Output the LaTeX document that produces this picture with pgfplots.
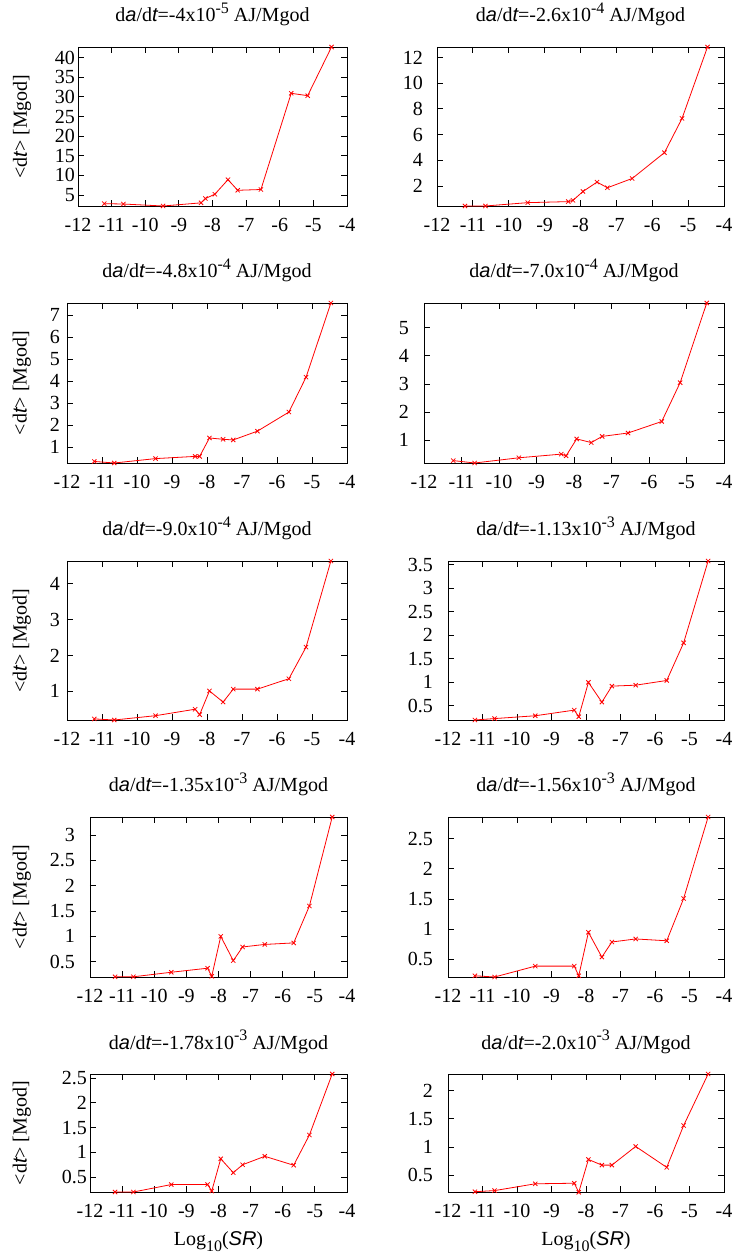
\documentclass[border=0pt]{standalone}
\usepackage{fontspec}
\setmainfont{Liberation Serif}
\newfontfamily\hv{Liberation Sans}
\newcommand{\si}[1]{{\hv\itshape #1}}
\usepackage{pgfplots}
\pgfplotsset{compat=1.18}
\newcommand{\supx}[1]{\raisebox{0.42em}{\fontsize{16}{18}\selectfont #1}}
\newcommand{\ttl}[2]{d\si{a}/d\si{t}=-#1x10\supx{-#2} AJ/Mgod}
\pgfplotsset{
 panel/.style={scale only axis, anchor=south west, xmin=-12, xmax=-4, xtick={-12,-11,...,-4},
  tick align=inside, major tick length=6pt,
  axis line style={line width=0.9pt},
  every tick/.style={line width=0.9pt, black},
  /pgf/number format/assume math mode=true,
  tick label style={font=\fontsize{20}{24}\selectfont},
  xticklabel style={inner sep=0pt, anchor=north, yshift=-12pt},
  title style={font=\fontsize{20}{24}\selectfont, at={(0.5,1)}, anchor=base, yshift=19pt, inner sep=0pt},
  label style={font=\fontsize{20}{24}\selectfont},
  clip=false,
 },
 gap/.style={yticklabel style={inner sep=0pt, anchor=east, xshift=-#1}},
 yl/.style={ylabel={<d\si{t}> [Mgod]}, ylabel style={at={(axis description cs:#1,0.5)}, anchor=center}},
 xl/.style={xlabel={Log\raisebox{-0.3em}{\fontsize{16}{18}\selectfont 10}(\si{SR})}, xlabel style={at={(axis description cs:0.5,0)}, anchor=base, yshift=-53pt, inner sep=0pt}},
 ser/.style={red, line width=0.8pt, mark=x, mark size=3pt, mark options={line width=0.8pt, solid}},
}
\begin{document}
\begin{tikzpicture}[x=1pt,y=1pt]
\useasboundingbox (0,0) rectangle (733,1254);
% Row 1
\begin{axis}[panel, at={(78pt,1048pt)}, width=269pt, height=159pt, ymin=2.2, ymax=42.7, ytick={5,10,...,40}, gap=3pt, yl=-0.208, title={\ttl{4}{5}}]
\addplot[ser] coordinates {(-11.22,2.8) (-10.65,2.7) (-9.47,2.2) (-8.34,3.0) (-8.21,4.1) (-7.93,5.2) (-7.54,8.9) (-7.25,6.2) (-6.56,6.4) (-5.66,30.9) (-5.17,30.3) (-4.46,42.7)};
\end{axis}
\begin{axis}[panel, at={(437pt,1048pt)}, width=287pt, height=159pt, ymin=0.45, ymax=12.82, ytick={2,4,...,12}, gap=14pt, title={\ttl{2.6}{4}}]
\addplot[ser] coordinates {(-11.22,0.45) (-10.65,0.45) (-9.47,0.71) (-8.34,0.79) (-8.21,0.89) (-7.93,1.58) (-7.54,2.31) (-7.25,1.87) (-6.56,2.59) (-5.66,4.60) (-5.17,7.26) (-4.46,12.82)};
\end{axis}
% Row 2
\begin{axis}[panel, at={(67pt,791pt)}, width=280pt, height=160pt, ymin=0.27, ymax=7.56, ytick={1,...,7}, gap=7pt, yl=-0.161, title={\ttl{4.8}{4}}]
\addplot[ser] coordinates {(-11.22,0.34) (-10.65,0.27) (-9.47,0.47) (-8.34,0.57) (-8.21,0.57) (-7.93,1.41) (-7.54,1.35) (-7.25,1.32) (-6.56,1.72) (-5.66,2.59) (-5.17,4.18) (-4.46,7.56)};
\end{axis}
\begin{axis}[panel, at={(424pt,791pt)}, width=300pt, height=160pt, ymin=0.195, ymax=5.88, ytick={1,...,5}, gap=15pt, title={\ttl{7.0}{4}}]
\addplot[ser] coordinates {(-11.22,0.28) (-10.65,0.195) (-9.47,0.38) (-8.34,0.51) (-8.21,0.45) (-7.93,1.05) (-7.54,0.92) (-7.25,1.14) (-6.56,1.26) (-5.66,1.67) (-5.17,3.05) (-4.46,5.88)};
\end{axis}
% Row 3
\begin{axis}[panel, at={(67pt,534pt)}, width=280pt, height=159pt, ymin=0.20, ymax=4.63, ytick={1,...,4}, gap=7pt, yl=-0.161, title={\ttl{9.0}{4}}]
\addplot[ser] coordinates {(-11.22,0.23) (-10.65,0.20) (-9.47,0.32) (-8.34,0.50) (-8.21,0.35) (-7.93,1.01) (-7.54,0.70) (-7.25,1.06) (-6.56,1.06) (-5.66,1.35) (-5.17,2.23) (-4.46,4.63)};
\end{axis}
\begin{axis}[panel, at={(448pt,534pt)}, width=276pt, height=159pt, ymin=0.20, ymax=3.58, ytick={0.5,1,...,3.5}, gap=15pt, title={\ttl{1.13}{3}}]
\addplot[ser] coordinates {(-11.22,0.20) (-10.65,0.23) (-9.47,0.29) (-8.34,0.41) (-8.21,0.27) (-7.93,1.0) (-7.54,0.58) (-7.25,0.92) (-6.56,0.94) (-5.66,1.04) (-5.17,1.84) (-4.46,3.58)};
\end{axis}
% Row 4
\begin{axis}[panel, at={(90pt,277pt)}, width=257pt, height=160pt, ymin=0.196, ymax=3.36, ytick={0.5,1,...,3}, gap=15pt, yl=-0.265, title={\ttl{1.35}{3}}]
\addplot[ser] coordinates {(-11.22,0.20) (-10.65,0.20) (-9.47,0.29) (-8.34,0.37) (-8.21,0.21) (-7.93,1.0) (-7.54,0.52) (-7.25,0.79) (-6.56,0.84) (-5.66,0.87) (-5.17,1.60) (-4.46,3.36)};
\end{axis}
\begin{axis}[panel, at={(448pt,277pt)}, width=276pt, height=160pt, ymin=0.21, ymax=2.86, ytick={0.5,1,...,2.5}, gap=15pt, title={\ttl{1.56}{3}}]
\addplot[ser] coordinates {(-11.22,0.23) (-10.65,0.21) (-9.47,0.39) (-8.34,0.39) (-8.21,0.23) (-7.93,0.95) (-7.54,0.54) (-7.25,0.79) (-6.56,0.84) (-5.66,0.81) (-5.17,1.51) (-4.46,2.86)};
\end{axis}
% Row 5
\begin{axis}[panel, at={(90pt,62pt)}, width=257pt, height=118pt, ymin=0.20, ymax=2.58, ytick={0.5,1,...,2.5}, gap=3pt, yl=-0.265, xl, title={\ttl{1.78}{3}}]
\addplot[ser] coordinates {(-11.22,0.20) (-10.65,0.20) (-9.47,0.35) (-8.34,0.35) (-8.21,0.22) (-7.93,0.87) (-7.54,0.59) (-7.25,0.75) (-6.56,0.92) (-5.66,0.74) (-5.17,1.35) (-4.46,2.58)};
\end{axis}
\begin{axis}[panel, at={(448pt,62pt)}, width=276pt, height=118pt, ymin=0.205, ymax=2.29, ytick={0.5,1,...,2}, gap=15pt, xl, title={\ttl{2.0}{3}}]
\addplot[ser] coordinates {(-11.22,0.21) (-10.65,0.23) (-9.47,0.35) (-8.34,0.36) (-8.21,0.20) (-7.93,0.78) (-7.54,0.68) (-7.25,0.68) (-6.56,1.01) (-5.66,0.64) (-5.17,1.38) (-4.46,2.29)};
\end{axis}
\end{tikzpicture}
\end{document}
